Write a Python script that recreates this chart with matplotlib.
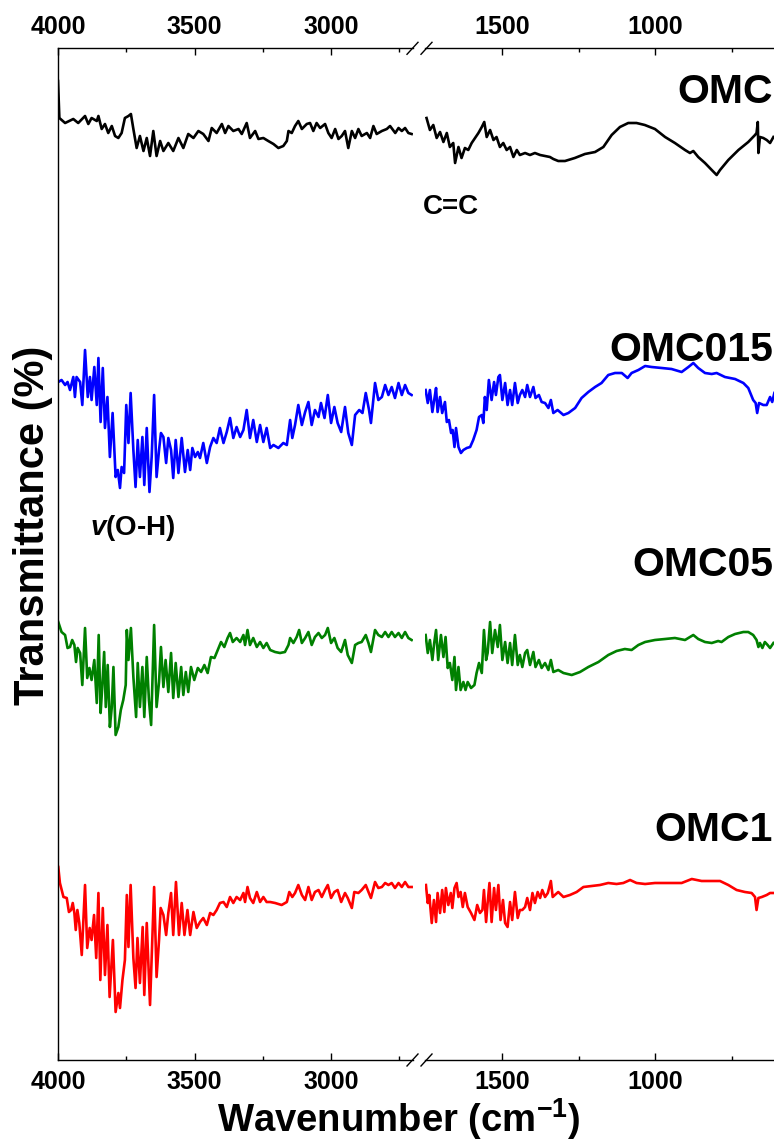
import numpy as np
import matplotlib
matplotlib.use("Agg")
import matplotlib.pyplot as plt
from matplotlib.lines import Line2D

# FTIR spectra, (wavenumber cm-1, stacked transmittance) pairs
# high-wavenumber window 4000-2700, low-wavenumber window 1750-600
omc_hi = [(4000, 97.9), (3995, 94.2), (3974, 93.7), (3944, 94.1), (3926, 93.7), (3901, 94.4),
          (3889, 93.6), (3877, 94.2), (3858, 93.9), (3852, 94.4), (3840, 93.1), (3828, 93.6),
          (3816, 92.7), (3803, 93.4), (3791, 92.4), (3779, 92.2), (3767, 92.7), (3755, 94.2),
          (3742, 94.4), (3733, 94.6), (3724, 93.1), (3712, 91.2), (3700, 92.4), (3687, 90.9),
          (3675, 92.2), (3663, 90.4), (3651, 92.9), (3639, 90.4), (3626, 91.9), (3614, 90.9),
          (3596, 91.7), (3578, 90.9), (3559, 92.2), (3541, 91.2), (3523, 92.6), (3504, 92.2),
          (3486, 92.9), (3468, 92.6), (3449, 91.9), (3437, 93.2), (3419, 92.7), (3400, 93.6),
          (3388, 92.7), (3376, 93.4), (3358, 92.9), (3339, 93.1), (3327, 92.6), (3309, 93.7),
          (3297, 92.2), (3278, 92.9), (3266, 92.1), (3248, 92.2), (3230, 91.9), (3211, 91.6),
          (3193, 91.2), (3175, 91.4), (3162, 91.9), (3156, 92.9), (3144, 92.7), (3132, 93.4),
          (3120, 93.9), (3107, 93.1), (3089, 93.6), (3077, 93.7), (3065, 92.9), (3053, 93.7),
          (3040, 93.2), (3022, 93.6), (3010, 92.7), (2998, 92.2), (2985, 93.1), (2973, 92.1),
          (2961, 92.4), (2949, 92.9), (2937, 91.2), (2924, 92.9), (2912, 92.2), (2900, 93.1),
          (2888, 92.4), (2869, 92.7), (2857, 92.2), (2845, 93.4), (2833, 92.6), (2814, 92.9),
          (2796, 93.1), (2784, 93.4), (2765, 92.7), (2753, 93.2), (2741, 92.9), (2729, 93.2),
          (2717, 92.7), (2705, 92.6)]
omc_lo = [(1745, 94.2), (1734, 93.0), (1723, 93.5), (1712, 92.2), (1701, 92.8), (1690, 91.8),
          (1679, 92.7), (1669, 91.3), (1658, 91.7), (1652, 89.7), (1641, 91.3), (1631, 90.2),
          (1620, 91.2), (1609, 91.0), (1598, 91.7), (1587, 92.2), (1576, 92.7), (1565, 93.3),
          (1557, 93.8), (1549, 92.3), (1538, 93.0), (1527, 92.0), (1517, 92.3), (1506, 91.3),
          (1495, 91.7), (1484, 91.0), (1473, 91.3), (1462, 90.3), (1451, 91.0), (1441, 90.5),
          (1424, 90.7), (1408, 90.5), (1392, 90.7), (1375, 90.5), (1359, 90.4), (1343, 90.3),
          (1332, 90.1), (1316, 89.9), (1294, 89.9), (1262, 90.2), (1229, 90.6), (1196, 90.8),
          (1169, 91.3), (1142, 92.5), (1115, 93.3), (1088, 93.7), (1061, 93.7), (1034, 93.5),
          (1001, 93.1), (968, 92.3), (936, 91.7), (903, 91.0), (887, 90.7), (876, 90.9),
          (860, 90.3), (838, 89.7), (816, 89.0), (800, 88.5), (789, 89.0), (762, 90.0),
          (729, 91.0), (697, 91.8), (675, 92.5), (670, 92.7), (666, 93.8), (664, 90.7),
          (659, 92.3), (648, 92.2), (637, 92.0), (626, 91.7), (615, 92.3)]

omc015_hi = [(3999, 67.8), (3987, 68.0), (3974, 67.5), (3965, 67.8), (3956, 67.0), (3944, 68.3),
             (3938, 66.3), (3932, 68.3), (3919, 67.8), (3911, 65.5), (3901, 71.0), (3891, 66.3),
             (3883, 68.3), (3877, 66.0), (3867, 69.3), (3858, 65.5), (3852, 70.2), (3844, 63.8),
             (3836, 69.2), (3828, 63.2), (3819, 66.3), (3810, 60.3), (3800, 64.7), (3789, 58.3),
             (3781, 59.0), (3773, 57.2), (3767, 59.3), (3758, 58.7), (3750, 65.5), (3742, 61.7),
             (3734, 66.7), (3724, 61.0), (3716, 57.3), (3708, 62.0), (3700, 58.3), (3691, 62.3),
             (3684, 57.5), (3675, 63.2), (3665, 56.8), (3657, 60.3), (3648, 66.5), (3639, 58.3),
             (3630, 61.0), (3623, 62.7), (3614, 62.3), (3604, 59.7), (3596, 62.2), (3586, 61.0),
             (3578, 58.2), (3569, 62.0), (3559, 58.7), (3547, 62.2), (3535, 58.8), (3525, 61.0),
             (3516, 59.0), (3508, 61.2), (3498, 60.3), (3488, 60.8), (3480, 60.2), (3468, 61.7),
             (3455, 59.7), (3443, 61.3), (3431, 62.2), (3419, 61.7), (3407, 63.2), (3394, 61.7),
             (3382, 62.8), (3370, 64.2), (3358, 62.2), (3346, 63.3), (3333, 62.3), (3321, 63.0),
             (3309, 65.0), (3297, 62.2), (3285, 64.0), (3272, 61.8), (3260, 63.5), (3248, 61.8),
             (3236, 63.2), (3223, 61.2), (3211, 61.5), (3193, 61.2), (3175, 61.7), (3162, 61.5),
             (3150, 64.0), (3142, 62.2), (3132, 63.5), (3120, 65.5), (3107, 63.5), (3095, 64.8),
             (3083, 65.8), (3071, 63.5), (3059, 65.0), (3046, 64.3), (3037, 65.7), (3024, 64.2),
             (3012, 66.5), (3000, 63.7), (2988, 65.3), (2976, 63.7), (2963, 62.8), (2949, 65.3),
             (2937, 62.7), (2924, 61.5), (2912, 64.5), (2897, 65.0), (2885, 64.7), (2873, 66.7),
             (2861, 65.0), (2854, 63.7), (2839, 67.7), (2827, 66.0), (2814, 66.3), (2802, 67.5),
             (2790, 66.5), (2778, 67.3), (2766, 66.2), (2753, 67.7), (2741, 66.5), (2729, 67.5),
             (2717, 66.7), (2705, 66.5)]
omc015_lo = [(1748, 67.0), (1741, 65.7), (1734, 67.0), (1726, 64.8), (1720, 66.0), (1714, 67.2),
             (1709, 64.8), (1701, 66.3), (1694, 64.7), (1685, 65.8), (1679, 63.8), (1672, 64.0),
             (1665, 62.7), (1660, 63.0), (1654, 61.3), (1649, 63.2), (1641, 61.3), (1633, 60.7),
             (1625, 61.0), (1614, 61.2), (1603, 61.3), (1593, 62.0), (1582, 63.0), (1574, 64.3),
             (1565, 64.5), (1560, 63.7), (1555, 66.3), (1549, 65.0), (1542, 68.0), (1533, 66.0),
             (1525, 67.8), (1519, 66.5), (1511, 68.3), (1506, 68.5), (1498, 66.0), (1489, 67.7),
             (1481, 65.5), (1473, 67.0), (1466, 65.5), (1457, 67.7), (1448, 65.7), (1441, 66.5),
             (1433, 67.0), (1424, 66.3), (1417, 67.5), (1408, 66.3), (1397, 67.3), (1390, 66.2),
             (1379, 66.5), (1370, 65.8), (1359, 65.7), (1348, 65.2), (1340, 66.0), (1332, 64.7),
             (1318, 65.0), (1299, 64.5), (1283, 64.7), (1261, 65.2), (1240, 66.2), (1218, 66.8),
             (1196, 67.3), (1175, 67.7), (1153, 68.5), (1131, 68.7), (1109, 68.7), (1090, 68.2),
             (1077, 68.7), (1055, 69.0), (1033, 69.4), (1012, 69.3), (979, 69.2), (947, 69.1),
             (914, 68.8), (892, 69.3), (876, 69.7), (860, 69.2), (838, 68.7), (816, 68.6),
             (800, 68.7), (773, 68.3), (740, 68.1), (713, 67.7), (697, 67.2), (681, 66.0),
             (673, 65.7), (668, 64.7), (662, 65.7), (648, 65.5), (637, 65.5), (626, 66.3),
             (619, 65.8), (612, 66.7)]

omc05_hi = [(3999, 43.8), (3987, 42.8), (3974, 42.5), (3965, 41.2), (3956, 41.3), (3948, 42.0),
            (3940, 41.5), (3934, 39.8), (3928, 41.2), (3919, 40.7), (3911, 37.5), (3901, 43.2),
            (3893, 38.2), (3885, 39.2), (3877, 38.0), (3867, 40.0), (3858, 35.7), (3851, 42.5),
            (3844, 34.7), (3838, 37.3), (3831, 40.8), (3825, 35.3), (3818, 39.5), (3810, 33.3),
            (3803, 35.3), (3797, 39.3), (3789, 32.5), (3779, 33.3), (3770, 35.0), (3761, 36.0),
            (3752, 37.5), (3748, 43.0), (3742, 40.0), (3733, 43.2), (3724, 38.3), (3714, 34.3),
            (3708, 39.7), (3700, 35.3), (3691, 39.3), (3684, 34.3), (3675, 40.3), (3667, 36.0),
            (3659, 33.5), (3648, 43.5), (3639, 35.3), (3630, 37.8), (3623, 41.3), (3614, 37.3),
            (3606, 40.0), (3596, 36.8), (3586, 40.7), (3578, 36.2), (3569, 39.7), (3559, 36.3),
            (3549, 39.3), (3541, 36.5), (3532, 38.8), (3523, 36.8), (3513, 39.3), (3501, 38.0),
            (3488, 39.2), (3476, 38.8), (3464, 39.5), (3452, 38.7), (3440, 40.3), (3427, 40.2),
            (3415, 41.0), (3403, 41.8), (3391, 41.3), (3379, 42.2), (3370, 42.7), (3360, 41.8),
            (3346, 42.2), (3333, 41.8), (3321, 42.5), (3315, 41.5), (3306, 43.0), (3297, 41.5),
            (3285, 42.2), (3272, 41.3), (3260, 41.8), (3248, 41.2), (3236, 41.7), (3223, 41.0),
            (3205, 40.8), (3187, 40.7), (3169, 40.8), (3156, 41.5), (3150, 42.2), (3138, 41.7),
            (3126, 42.3), (3117, 43.0), (3107, 41.7), (3095, 42.2), (3083, 42.8), (3071, 41.5),
            (3059, 42.3), (3046, 42.7), (3034, 42.2), (3022, 42.5), (3012, 43.2), (3000, 41.7),
            (2988, 42.2), (2976, 41.2), (2963, 40.8), (2949, 42.0), (2939, 40.5), (2924, 39.7),
            (2912, 41.5), (2900, 41.7), (2888, 41.8), (2873, 42.5), (2863, 41.7), (2854, 40.8),
            (2839, 43.0), (2827, 42.5), (2814, 42.3), (2802, 42.8), (2790, 42.3), (2778, 42.8),
            (2766, 42.3), (2753, 42.7), (2741, 42.2), (2729, 42.8), (2717, 42.2), (2705, 42.0)]
omc05_lo = [(1748, 42.5), (1741, 40.7), (1734, 42.0), (1726, 40.0), (1720, 41.7), (1714, 43.0),
            (1707, 40.0), (1698, 42.5), (1690, 40.3), (1683, 42.3), (1676, 39.2), (1669, 39.7),
            (1661, 38.0), (1654, 40.3), (1649, 37.0), (1641, 39.3), (1634, 37.0), (1625, 37.8),
            (1618, 37.0), (1611, 37.8), (1600, 37.2), (1589, 37.5), (1582, 38.7), (1574, 39.7),
            (1565, 38.7), (1558, 43.0), (1551, 40.0), (1546, 40.7), (1538, 43.8), (1531, 40.7),
            (1522, 43.0), (1513, 41.3), (1506, 43.5), (1498, 40.0), (1489, 41.8), (1481, 39.7),
            (1473, 41.7), (1466, 39.5), (1457, 42.5), (1448, 39.5), (1441, 40.5), (1433, 39.3),
            (1424, 40.7), (1417, 41.0), (1408, 39.5), (1397, 40.8), (1390, 39.3), (1379, 40.0),
            (1370, 39.2), (1359, 39.7), (1348, 39.0), (1340, 40.0), (1332, 38.8), (1316, 39.0),
            (1299, 38.7), (1272, 38.5), (1245, 38.8), (1218, 39.3), (1185, 39.8), (1153, 40.5),
            (1126, 40.9), (1099, 41.1), (1077, 41.0), (1055, 41.5), (1033, 41.8), (1001, 42.0),
            (968, 42.1), (936, 42.2), (903, 42.0), (887, 42.3), (876, 42.5), (860, 42.1),
            (838, 41.8), (816, 41.7), (795, 41.9), (784, 41.8), (762, 42.3), (740, 42.6),
            (713, 42.8), (697, 42.8), (681, 42.5), (670, 42.0), (664, 41.3), (659, 41.7),
            (651, 41.2), (643, 41.8), (634, 41.5), (626, 41.2), (615, 41.7)]

omc1_hi = [(3999, 19.3), (3993, 17.7), (3980, 16.3), (3968, 16.2), (3960, 14.8), (3952, 15.0),
           (3946, 15.7), (3940, 14.7), (3935, 13.0), (3929, 15.0), (3922, 13.7), (3913, 10.5),
           (3901, 17.5), (3893, 11.2), (3884, 13.2), (3877, 12.0), (3868, 14.5), (3860, 10.2),
           (3852, 16.7), (3845, 8.0), (3836, 15.2), (3828, 8.5), (3819, 13.5), (3811, 6.3),
           (3799, 12.0), (3789, 4.8), (3779, 6.7), (3773, 5.2), (3764, 8.0), (3755, 10.0),
           (3748, 16.5), (3742, 11.3), (3734, 17.5), (3724, 10.2), (3716, 7.2), (3709, 12.2),
           (3700, 7.7), (3690, 13.3), (3684, 6.5), (3675, 13.7), (3663, 5.5), (3648, 17.3),
           (3639, 8.3), (3630, 12.0), (3624, 15.2), (3614, 14.5), (3604, 12.5), (3596, 14.7),
           (3586, 16.7), (3578, 12.5), (3568, 17.8), (3557, 12.5), (3547, 15.7), (3537, 12.5),
           (3526, 15.0), (3516, 12.5), (3504, 14.8), (3492, 13.2), (3480, 13.8), (3468, 14.2),
           (3455, 13.5), (3443, 14.7), (3431, 14.5), (3419, 15.0), (3407, 15.7), (3394, 15.8),
           (3382, 15.3), (3370, 16.3), (3358, 15.7), (3346, 16.3), (3333, 16.0), (3321, 16.7),
           (3315, 15.8), (3306, 17.3), (3297, 16.2), (3285, 15.7), (3272, 16.8), (3260, 15.8),
           (3248, 16.3), (3236, 15.8), (3223, 15.8), (3205, 15.7), (3181, 15.5), (3162, 15.8),
           (3153, 16.8), (3142, 16.3), (3132, 16.7), (3120, 17.5), (3107, 16.5), (3095, 16.0),
           (3083, 17.3), (3071, 16.0), (3059, 16.8), (3046, 17.0), (3034, 16.3), (3022, 17.0),
           (3012, 17.5), (3000, 16.2), (2988, 16.8), (2976, 17.0), (2963, 15.8), (2949, 16.7),
           (2939, 16.2), (2924, 15.2), (2915, 16.8), (2900, 16.7), (2888, 17.0), (2873, 17.5),
           (2863, 16.8), (2854, 16.2), (2839, 17.8), (2827, 17.2), (2814, 17.3), (2802, 17.7),
           (2790, 17.5), (2778, 17.7), (2766, 17.2), (2753, 17.7), (2741, 17.3), (2729, 17.8),
           (2717, 17.3), (2705, 17.3)]
omc1_lo = [(1747, 17.5), (1741, 15.7), (1736, 16.5), (1728, 13.7), (1721, 16.0), (1714, 13.8),
           (1709, 16.7), (1701, 14.7), (1694, 17.0), (1687, 14.8), (1682, 17.2), (1674, 15.5),
           (1666, 16.7), (1661, 15.2), (1654, 17.2), (1647, 17.7), (1641, 16.3), (1634, 16.8),
           (1627, 15.3), (1620, 16.7), (1611, 15.3), (1600, 14.7), (1589, 14.0), (1580, 15.5),
           (1571, 14.7), (1563, 15.0), (1558, 17.0), (1551, 13.8), (1546, 15.7), (1540, 17.7),
           (1533, 13.8), (1525, 17.2), (1519, 15.0), (1511, 17.5), (1504, 14.0), (1496, 16.0),
           (1489, 13.7), (1481, 13.3), (1473, 15.8), (1466, 14.0), (1457, 16.8), (1448, 14.2),
           (1441, 15.0), (1433, 15.0), (1424, 15.3), (1417, 16.2), (1408, 15.0), (1400, 16.7),
           (1392, 15.7), (1383, 16.8), (1375, 16.2), (1368, 17.0), (1359, 16.3), (1350, 16.7),
           (1340, 17.9), (1334, 16.3), (1327, 16.5), (1316, 16.8), (1299, 16.3), (1278, 16.5),
           (1256, 16.8), (1234, 17.3), (1207, 17.4), (1180, 17.5), (1153, 17.7), (1126, 17.6),
           (1104, 17.7), (1082, 18.0), (1061, 17.7), (1033, 17.6), (1001, 17.7), (968, 17.7),
           (936, 17.7), (914, 17.7), (881, 18.1), (849, 17.9), (816, 17.9), (789, 17.9),
           (762, 17.5), (735, 17.0), (708, 16.8), (686, 16.7), (675, 16.3), (670, 15.0),
           (664, 16.2), (653, 16.3), (637, 16.5), (626, 16.7), (615, 16.7)]

sample_names = ["OMC", "OMC015", "OMC05", "OMC1"]
sample_colors = ["black", "blue", "green", "red"]

plt.rcParams["font.family"] = ["Liberation Sans", "DejaVu Sans"]
plt.rcParams["font.weight"] = "bold"
plt.rcParams["mathtext.fontset"] = "custom"
plt.rcParams["mathtext.rm"] = "Liberation Sans:bold"
plt.rcParams["mathtext.bf"] = "Liberation Sans:bold"
plt.rcParams["mathtext.it"] = "Liberation Sans:bold:italic"

W, H = 774, 1144
fig = plt.figure(figsize=(W / 100, H / 100), dpi=100)

# axes boxes in pixels: left window 4000-2700, right window 1750-500
top_px, bot_px = 48.3, 1060.0
ax_hi = fig.add_axes([58 / W, 1 - bot_px / H, 355 / W, (bot_px - top_px) / H])
ax_lo = fig.add_axes([425 / W, 1 - bot_px / H, 383.75 / W, (bot_px - top_px) / H],
                     sharey=ax_hi)

for (hi, lo, color) in zip([omc_hi, omc015_hi, omc05_hi, omc1_hi],
                           [omc_lo, omc015_lo, omc05_lo, omc1_lo], sample_colors):
    x, y = np.array(hi).T
    ax_hi.plot(x, y, color=color, lw=1.9)
    x, y = np.array(lo).T
    ax_lo.plot(x, y, color=color, lw=1.9)

ax_hi.set_xlim(4000, 2700)
ax_lo.set_xlim(1750, 500)
ax_hi.set_ylim(0, 101.17)

ax_hi.set_xticks([4000, 3500, 3000])
ax_hi.set_xticks([3750, 3250, 2750], minor=True)
ax_lo.set_xticks([1500, 1000])
ax_lo.set_xticks([1250, 750], minor=True)

for ax in (ax_hi, ax_lo):
    ax.set_yticks([])
    ax.tick_params(axis="x", which="both", direction="in", top=True, bottom=True,
                   labeltop=True, labelbottom=True, width=1.0, pad=7,
                   labelsize=18)
    ax.tick_params(axis="x", which="major", length=5)
    ax.tick_params(axis="x", which="minor", length=3)
    for lbl in ax.get_xticklabels():
        lbl.set_fontweight("bold")
    for s in ax.spines.values():
        s.set_linewidth(1.0)

ax_hi.spines["right"].set_visible(False)
ax_lo.spines["left"].set_visible(False)

# "//" break marks on top and bottom spines
for yc in (top_px, bot_px):
    for xc in (412.5, 426.5):
        fig.add_artist(Line2D([(xc - 5.5) / W, (xc + 5.5) / W],
                              [1 - (yc + 6) / H, 1 - (yc - 6) / H],
                              color="black", lw=1.0))

# sample names at the right edge
label_y = [92, 350, 565, 830]
for name, yp in zip(sample_names, label_y):
    fig.text(773 / W, 1 - yp / H, name, ha="right", va="center",
             fontsize=29.5, fontweight="bold")

fig.text(423 / W, 1 - 207 / H, "C=C", ha="left", va="center", fontsize=20,
         fontweight="bold")
fig.text(90 / W, 1 - 528 / H, r"$v$(O-H)", ha="left", va="center", fontsize=20,
         fontweight="bold")

fig.text(399 / W, 1 - 1119 / H, r"Wavenumber (cm$^{-1}$)", ha="center",
         va="center", fontsize=27.5, fontweight="bold")
fig.text(33 / W, 1 - 525 / H, "Transmittance (%)", ha="center", va="center",
         rotation=90, fontsize=30, fontweight="bold")

fig.savefig("out.png", dpi=100)
